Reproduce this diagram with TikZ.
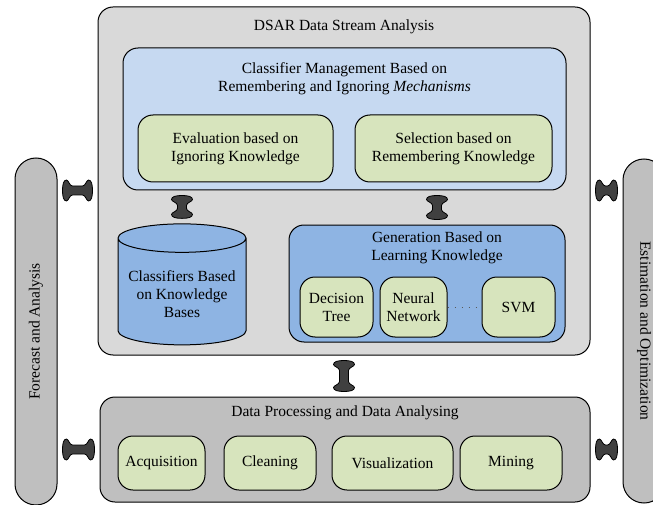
\documentclass[tikz,border=0pt]{standalone}
\usepackage{fontspec}
\setmainfont{Liberation Serif}
\usetikzlibrary{calc,shapes.geometric}
\definecolor{framecol}{RGB}{217,217,217}
\definecolor{mgmtcol}{RGB}{198,217,241}
\definecolor{leafcol}{RGB}{215,228,189}
\definecolor{gencol}{RGB}{142,180,227}
\definecolor{basecol}{RGB}{191,191,191}
\definecolor{linkcol}{RGB}{64,64,64}

\begin{document}
\begin{tikzpicture}[
    x=1pt, y=-1pt,
    font=\fontsize{15.5}{18}\selectfont,
    panel/.style={rectangle, rounded corners=15pt, draw, line width=1pt},
    box/.style={panel, fill=leafcol, align=center, inner sep=2pt},
    sidebar/.style={rectangle, rounded corners=21pt, draw, line width=1pt, fill=basecol, minimum width=42pt},
    title/.style={align=center},
    linkbase/.style={fill=linkcol, draw=black, line width=0.8pt},
    hlink/.style={linkbase, to path={let \p1=(\tikztostart), \p2=(\tikztotarget) in
      (\x1+5pt,\y1) .. controls (\x1+5pt,\y1+6pt) and (\x1+6pt,\y1+10.5pt) .. (\x1+9pt,\y1+10.5pt)
      .. controls (\x1+11pt,\y1+10.5pt) and (\x1+12pt,\y1+4.5pt) .. (\x1+15pt,\y1+4.5pt)
      -- (\x2-15pt,\y1+4.5pt)
      .. controls (\x2-12pt,\y1+4.5pt) and (\x2-11pt,\y1+10.5pt) .. (\x2-9pt,\y1+10.5pt)
      .. controls (\x2-6pt,\y1+10.5pt) and (\x2-5pt,\y1+6pt) .. (\x2-5pt,\y1)
      .. controls (\x2-5pt,\y1-6pt) and (\x2-6pt,\y1-10.5pt) .. (\x2-9pt,\y1-10.5pt)
      .. controls (\x2-11pt,\y1-10.5pt) and (\x2-12pt,\y1-4.5pt) .. (\x2-15pt,\y1-4.5pt)
      -- (\x1+15pt,\y1-4.5pt)
      .. controls (\x1+12pt,\y1-4.5pt) and (\x1+11pt,\y1-10.5pt) .. (\x1+9pt,\y1-10.5pt)
      .. controls (\x1+6pt,\y1-10.5pt) and (\x1+5pt,\y1-6pt) .. (\x1+5pt,\y1) -- cycle}},
    vlink/.style={linkbase, to path={let \p1=(\tikztostart), \p2=(\tikztotarget) in
      (\x1,\y1-5pt) .. controls (\x1+6pt,\y1-5pt) and (\x1+10.5pt,\y1-6pt) .. (\x1+10.5pt,\y1-9pt)
      .. controls (\x1+10.5pt,\y1-11pt) and (\x1+4.5pt,\y1-12pt) .. (\x1+4.5pt,\y1-15pt)
      -- (\x1+4.5pt,\y2+15pt)
      .. controls (\x1+4.5pt,\y2+12pt) and (\x1+10.5pt,\y2+11pt) .. (\x1+10.5pt,\y2+9pt)
      .. controls (\x1+10.5pt,\y2+6pt) and (\x1+6pt,\y2+5pt) .. (\x1,\y2+5pt)
      .. controls (\x1-6pt,\y2+5pt) and (\x1-10.5pt,\y2+6pt) .. (\x1-10.5pt,\y2+9pt)
      .. controls (\x1-10.5pt,\y2+11pt) and (\x1-4.5pt,\y2+12pt) .. (\x1-4.5pt,\y2+15pt)
      -- (\x1-4.5pt,\y1-15pt)
      .. controls (\x1-4.5pt,\y1-12pt) and (\x1-10.5pt,\y1-11pt) .. (\x1-10.5pt,\y1-9pt)
      .. controls (\x1-10.5pt,\y1-6pt) and (\x1-6pt,\y1-5pt) .. (\x1,\y1-5pt) -- cycle}},
]
\useasboundingbox (0,0) rectangle (653,505);
\clip (0,0) rectangle (653,505);

\node[panel, fill=framecol, minimum width=492pt, minimum height=348pt] (dsar) at (344,181) {};
\node[title] (dsart) at (344,27) {DSAR Data Stream Analysis};

\node[panel, fill=mgmtcol, minimum width=443pt, minimum height=142pt] (cm) at (344.5,119) {};
\node[title] (cmt) at (344.5,78.5) {Classifier Management Based on\\Remembering and Ignoring \textit{Mechanisms}};
\node[box, minimum width=195pt, minimum height=67pt] (ev) at (235.5,148.5) {Evaluation based on\\Ignoring Knowledge};
\node[box, minimum width=197pt, minimum height=67pt] (sel) at (453.5,148.5) {Selection based on\\Remembering Knowledge};

\node[cylinder, shape border rotate=90, aspect=0.25, draw, line width=1pt, fill=gencol, minimum width=128pt, minimum height=121pt, align=center] (kb) at (182,294) {Classifiers Based\\on Knowledge\\Bases};

\node[panel, fill=gencol, minimum width=276pt, minimum height=117pt] (gen) at (427,283.5) {};
\node[title] (gent) at (437,247.5) {Generation Based on\\Learning Knowledge};
\node[box, minimum width=73pt, minimum height=60pt] (dt) at (336.5,307) {Decision\\Tree};
\node[box, minimum width=67pt, minimum height=60pt] (nn) at (413.5,307) {Neural\\Network};
\node[box, minimum width=73pt, minimum height=60pt] (svm) at (518.5,307) {SVM};
\draw[black!65, line width=0.8pt, dash pattern=on 1pt off 6pt] (nn) -- (svm);

\node[panel, fill=basecol, minimum width=490pt, minimum height=105pt] (dp) at (345,449.5) {};
\node[title] (dpt) at (345,413) {Data Processing and Data Analysing};
\node[box, minimum width=87pt, minimum height=54pt] (acq) at (161.5,463) {Acquisition};
\node[box, minimum width=92pt, minimum height=54pt] (cln) at (270,463) {Cleaning};
\node[box, minimum width=121pt, minimum height=54pt] (vis) at (392.5,463) {Visualization};
\node[box, minimum width=102pt, minimum height=54pt] (mine) at (511,463) {Mining};

\node[sidebar, minimum height=347pt] (fa) at (36,331.5) {};
\node[rotate=90] (fat) at (fa) {Forecast and Analysis};
\node[sidebar, minimum height=344pt] (eo) at (644,331) {};
\node[rotate=-90] (eot) at (eo) {Estimation and Optimization};

\draw[hlink] (fa.east |- cm.south) to (dsar.west |- cm.south);
\draw[hlink] (dsar.east |- cm.south) to (eo.west |- cm.south);
\draw[hlink] (fa.east |- dp.west) to (dp.west);
\draw[hlink] (dp.east) to (eo.west |- dp.east);
\draw[vlink] (cm.south -| kb.north) to (kb.north);
\draw[vlink] (cm.south -| gent) to (gen.north -| gent);
\draw[vlink] (dsar.south) to (dp.north);
\end{tikzpicture}
\end{document}
